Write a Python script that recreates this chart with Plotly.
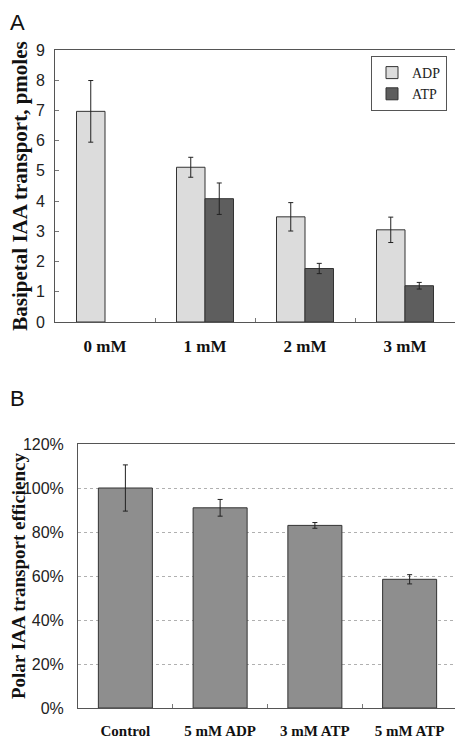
import plotly.graph_objects as go

# Panel A data
conc = ["0 mM", "1 mM", "2 mM", "3 mM"]
adp_vals = [6.97, 5.12, 3.48, 3.05]
adp_err = [1.02, 0.33, 0.47, 0.42]
atp_vals = [None, 4.08, 1.77, 1.20]
atp_err = [None, 0.52, 0.17, 0.11]
yticks_a = [0, 1, 2, 3, 4, 5, 6, 7, 8, 9]

# Panel B data
treat = ["Control", "5 mM ADP", "3 mM ATP", "5 mM ATP"]
eff_vals = [1.00, 0.91, 0.83, 0.585]
eff_err = [0.105, 0.038, 0.013, 0.021]
yticks_b = [0, 0.2, 0.4, 0.6, 0.8, 1.0, 1.2]
yticks_b_text = ["0%", "20%", "40%", "60%", "80%", "100%", "120%"]

OFF = 8  # page body margin
W, H = 463 - OFF, 740 - OFF
serif = "Liberation Serif, Times New Roman, serif"
sans = "Liberation Sans, Arial, sans-serif"

fig = go.Figure()

err_style = dict(type="data", thickness=1, width=2.5, color="#222222")

fig.add_trace(go.Bar(
    x=conc, y=adp_vals, name="ADP", xaxis="x", yaxis="y",
    marker=dict(color="#dcdcdc", line=dict(color="#333333", width=1)),
    error_y=dict(array=adp_err, **err_style),
))
fig.add_trace(go.Bar(
    x=conc, y=atp_vals, name="ATP", xaxis="x", yaxis="y",
    marker=dict(color="#5e5e5e", line=dict(color="#333333", width=1)),
    error_y=dict(array=atp_err, **err_style),
))
fig.add_trace(go.Bar(
    x=treat, y=eff_vals, name="eff", xaxis="x2", yaxis="y2", showlegend=False,
    marker=dict(color="#8e8e8e", line=dict(color="#333333", width=1)),
    error_y=dict(array=eff_err, **err_style),
))

def fx(p):
    return (p - OFF) / W

def fy(p):
    return 1 - (p - OFF) / H

axis_common = dict(showline=True, linecolor="#555555", linewidth=1, mirror=True,
                   automargin=False)

fig.update_layout(
    width=W, height=H,
    margin=dict(l=0, r=0, t=0, b=0),
    paper_bgcolor="white", plot_bgcolor="white",
    barmode="group",
    bargap=0.43, bargroupgap=0,
    showlegend=True,
    legend=dict(
        x=fx(447), y=fy(56), xanchor="right", yanchor="top",
        bgcolor="white", bordercolor="#555555", borderwidth=1,
        font=dict(family=serif, size=14, color="#222222"),
        itemwidth=30, tracegroupgap=4,
    ),
    xaxis=dict(
        domain=[fx(55), fx(455)], anchor="y", type="category",
        ticks="inside", tickson="boundaries", ticklen=4, tickcolor="#777777",
        tickfont=dict(family=serif, size=17, color="#111111", weight="bold"),
        ticklabelstandoff=9,
        **axis_common,
    ),
    yaxis=dict(
        domain=[fy(322), fy(50)], anchor="x", range=[0, 9],
        tickvals=yticks_a, ticks="inside", ticklen=4, tickcolor="#777777",
        showgrid=False, zeroline=False,
        tickfont=dict(family=sans, size=16, color="#222222"),
        ticklabelstandoff=6,
        title=dict(text="Basipetal IAA transport, pmoles",
                   font=dict(family=serif, size=21, color="#111111", weight="bold"),
                   standoff=12),
        **axis_common,
    ),
    xaxis2=dict(
        domain=[fx(78), fx(457)], anchor="y2", type="category",
        ticks="inside", tickson="boundaries", ticklen=4, tickcolor="#777777",
        tickfont=dict(family=serif, size=15, color="#111111", weight="bold"),
        ticklabelstandoff=9,
        **axis_common,
    ),
    yaxis2=dict(
        domain=[fy(708), fy(444)], anchor="x2", range=[0, 1.2],
        tickvals=yticks_b, ticktext=yticks_b_text, ticks="",
        showgrid=True, gridcolor="#b0b0b0", griddash="dot", gridwidth=1,
        zeroline=False,
        tickfont=dict(family=sans, size=16, color="#222222"),
        ticklabelstandoff=10,
        title=dict(text="Polar IAA transport efficiency",
                   font=dict(family=serif, size=19, color="#111111", weight="bold"),
                   standoff=14),
        **axis_common,
    ),
    annotations=[
        dict(text="A", x=fx(8), y=fy(8), xref="paper", yref="paper",
             xanchor="left", yanchor="top", showarrow=False,
             font=dict(family=sans, size=22, color="#111111")),
        dict(text="B", x=fx(8), y=fy(384), xref="paper", yref="paper",
             xanchor="left", yanchor="top", showarrow=False,
             font=dict(family=sans, size=22, color="#111111")),
    ],
)

fig.write_html("out.html")
